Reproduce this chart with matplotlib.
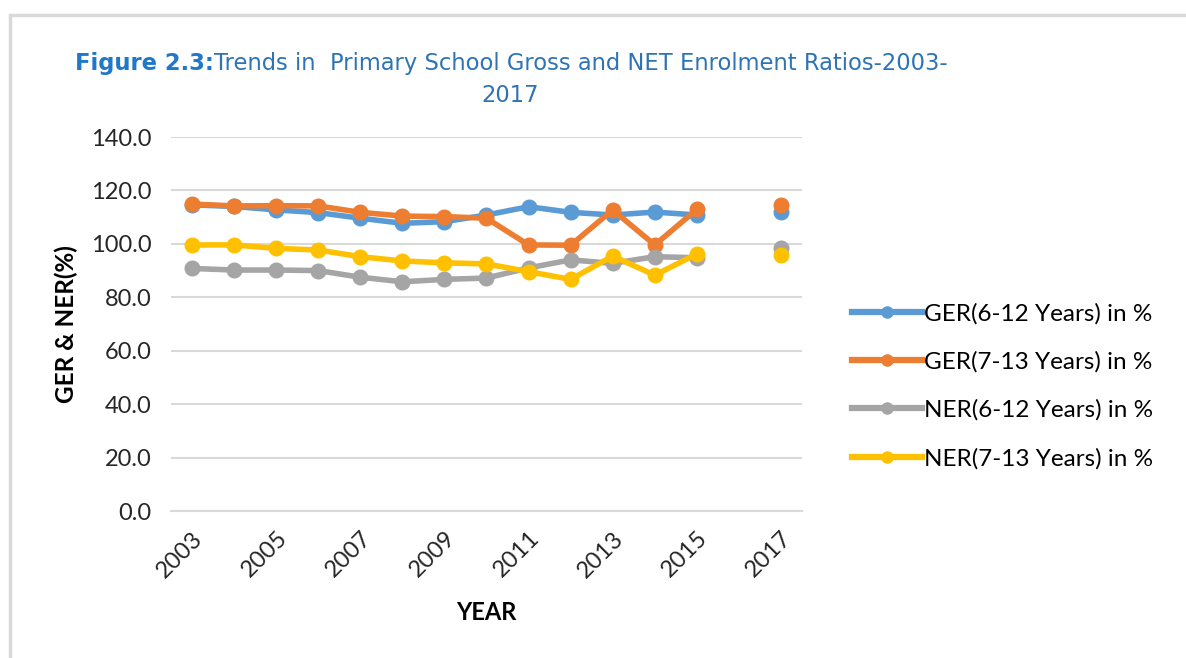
import numpy as np
import matplotlib
matplotlib.use("Agg")
import matplotlib.pyplot as plt
from matplotlib.patches import Rectangle
from matplotlib.lines import Line2D

years = [2003, 2004, 2005, 2006, 2007, 2008, 2009, 2010, 2011, 2012, 2013, 2014, 2015, 2016, 2017]
ger_6_12 = [114.6, 114.0, 112.7, 111.7, 109.6, 107.7, 108.3, 110.8, 113.9, 111.8, 110.8, 111.9, 110.8, np.nan, 111.8]
ger_7_13 = [114.9, 114.2, 114.3, 114.2, 111.8, 110.4, 110.2, 109.6, 99.6, 99.5, 112.7, 99.6, 112.9, np.nan, 114.5]
ner_6_12 = [90.8, 90.2, 90.2, 90.0, 87.5, 85.8, 86.7, 87.2, 91.0, 94.0, 92.7, 95.2, 94.8, np.nan, 98.3]
ner_7_13 = [99.6, 99.6, 98.3, 97.7, 95.2, 93.6, 92.9, 92.5, 89.6, 86.7, 95.4, 88.3, 96.2, np.nan, 95.8]
series_names = ["GER(6-12 Years) in %", "GER(7-13 Years) in %", "NER(6-12 Years) in %", "NER(7-13 Years) in %"]
series_colors = ["#5B9BD5", "#ED7D31", "#A5A5A5", "#FFC000"]
xtick_labels = ["2003", "2005", "2007", "2009", "2011", "2013", "2015", "2017"]
yticks = [0, 20, 40, 60, 80, 100, 120, 140]

plt.rcParams['font.family'] = ['Lato', 'DejaVu Sans']

fig = plt.figure(figsize=(11.86, 6.58), dpi=100)
W, H = 1186, 658

# outer border
fig.patches.append(Rectangle((10 / W, -0.05), 1.2, 1 - 15 / H + 0.05, transform=fig.transFigure,
                             fill=False, edgecolor="#D9D9D9", linewidth=2.5, zorder=0))

ax = fig.add_axes([171 / W, 1 - 511 / H, (802 - 171) / W, (511 - 137) / H])
data = [ger_6_12, ger_7_13, ner_6_12, ner_7_13]
for vals, c, name in zip(data, series_colors, series_names):
    ax.plot(years, vals, color=c, linewidth=4.0, marker="o", markersize=10.5,
            solid_capstyle="round", label=name, zorder=3)

ax.set_xlim(2002.5, 2017.5)
ax.set_ylim(0, 140)
ax.set_yticks(yticks)
ax.set_yticklabels([f"{v:.1f}" for v in yticks])
ax.set_xticks([int(t) for t in xtick_labels])
ax.set_xticklabels(xtick_labels, rotation=45, ha="right", rotation_mode="anchor")
ax.grid(axis="y", color="#D9D9D9", linewidth=1.5, zorder=0)
for s in ["top", "right", "left"]:
    ax.spines[s].set_visible(False)
ax.spines["bottom"].set_color("#D9D9D9")
ax.spines["bottom"].set_linewidth(1.5)
ax.tick_params(axis="both", length=0, labelsize=17, colors="#262626")
ax.tick_params(axis="y", pad=14)
ax.tick_params(axis="x", pad=12)

ax.set_ylabel("GER & NER(%)", fontsize=17.5, fontweight="bold", labelpad=9, color="#000000")
ax.set_xlabel("YEAR", fontsize=17, fontweight="bold", labelpad=14, color="#000000")

# legend
handles = [Line2D([0], [0], color=c, linewidth=4.5, marker="o", markersize=8) for c in series_colors]
fig.legend(handles, series_names, loc="center left", bbox_to_anchor=(830 / W, 1 - 386 / H),
           frameon=False, fontsize=17.5, handlelength=2.9, handletextpad=0.05, labelspacing=1.1,
           labelcolor="#000000")

# title
title_color = "#2E74B5"
tfam = ['Liberation Sans Narrow', 'DejaVu Sans']
t1 = fig.text(75 / W, 1 - 70 / H, "Figure 2.3:", fontsize=16.3, fontweight="bold",
              color="#1F78C8", family=tfam, va="baseline")
ax.annotate("Trends in  Primary School Gross and NET Enrolment Ratios-2003-", xy=(1, 0),
            xycoords=t1, fontsize=16.3, color=title_color, family=tfam, va="bottom", ha="left",
            annotation_clip=False)
fig.text(510 / W, 1 - 102 / H, "2017", fontsize=16.3, color=title_color, family=tfam,
         ha="center", va="baseline")

fig.savefig("out.png", dpi=100)
